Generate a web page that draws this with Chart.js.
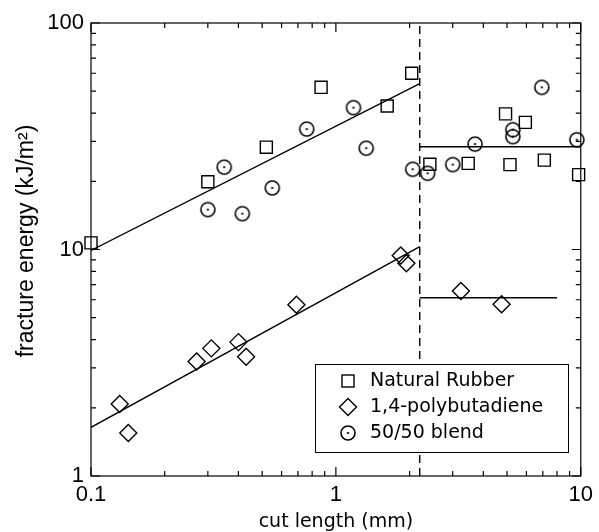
<!DOCTYPE html>
<html>
<head>
<meta charset="utf-8">
<script src="https://cdn.jsdelivr.net/npm/chart.js@4.4.1/dist/chart.umd.min.js"></script>
<style>
  html, body { margin: 0; padding: 0; background: #fff; }
</style>
</head>
<body>
<canvas id="fractureChart" width="599" height="532"></canvas>
<script>
// Data (cut length in mm, fracture energy in kJ/m2)
const rubberX = [0.1, 0.3, 0.52, 0.87, 1.62, 2.04, 2.42, 3.47, 4.93, 5.14, 5.94, 7.1, 9.8];
const rubberY = [10.7, 19.9, 28.3, 52, 43, 60, 23.8, 24, 39.7, 23.7, 36.4, 24.8, 21.4];

const pbX = [0.131, 0.142, 0.27, 0.31, 0.4, 0.43, 0.69, 1.84, 1.94, 3.24, 4.75];
const pbY = [2.08, 1.55, 3.2, 3.66, 3.9, 3.36, 5.7, 9.4, 8.7, 6.56, 5.73];

const blendX = [0.3, 0.35, 0.415, 0.55, 0.76, 1.18, 1.33, 2.06, 2.37, 3.0, 3.7, 5.28, 5.28, 6.93, 9.64];
const blendY = [15, 23.1, 14.4, 18.7, 34, 42.3, 28, 22.6, 21.7, 23.7, 29.2, 33.8, 31.5, 52, 30.5];

// fitted lines
const rubberFitX = [0.1, 2.2];
const rubberFitY = [9.9, 54];
const rubberFlatX = [2.2, 10];
const rubberFlatY = [28.4, 28.4];
const pbFitX = [0.1, 2.2];
const pbFitY = [1.64, 10.3];
const pbFlatX = [2.2, 8];
const pbFlatY = [6.12, 6.12];
const dividerX = [2.2, 2.2];
const dividerY = [1, 100];

const xTicks = [0.1, 1, 10];
const xTickLabels = ['0.1', '1', '10'];
const yTicks = [1, 10, 100];
const yTickLabels = ['1', '10', '100'];
const seriesNames = ['Natural Rubber', '1,4-polybutadiene', '50/50 blend'];
const yTitle = 'fracture energy (kJ/m²)';

const pts = (xs, ys) => xs.map((x, i) => ({ x: x, y: ys[i] }));

// circle with a small centre mark, used for the blend
function makeDotCircle() {
  const c = document.createElement('canvas');
  c.width = 18; c.height = 18;
  const g = c.getContext('2d');
  g.strokeStyle = '#000';
  g.lineWidth = 1.6;
  g.beginPath();
  g.arc(9, 9, 7, 0, Math.PI * 2);
  g.stroke();
  g.beginPath();
  g.moveTo(7.8, 9);
  g.lineTo(10.2, 9);
  g.stroke();
  return c;
}
const dotCircle = makeDotCircle();

function lineSet(xs, ys, dash) {
  return {
    type: 'line',
    data: pts(xs, ys),
    borderColor: '#000',
    borderWidth: 1.4,
    borderDash: dash || [],
    pointRadius: 0,
    fill: false,
    tension: 0
  };
}

// frame and inward ticks on all four sides, plus the y title
const frameTicks = {
  id: 'frameTicks',
  beforeDatasetsDraw(chart) {
    const { ctx, chartArea: a, scales: { x, y } } = chart;
    ctx.save();
    ctx.strokeStyle = '#000';
    ctx.lineWidth = 1.2;
    ctx.strokeRect(a.left, a.top, a.right - a.left, a.bottom - a.top);
    ctx.beginPath();
    [0.1, 1].forEach(d => {
      for (let k = 1; k <= 10; k++) {
        const px = x.getPixelForValue(d * k);
        const len = (k === 1 || k === 10) ? 9 : 5;
        ctx.moveTo(px, a.bottom); ctx.lineTo(px, a.bottom - len);
        ctx.moveTo(px, a.top); ctx.lineTo(px, a.top + len);
      }
    });
    [1, 10].forEach(d => {
      for (let k = 1; k <= 10; k++) {
        const py = y.getPixelForValue(d * k);
        const len = (k === 1 || k === 10) ? 9 : 5;
        ctx.moveTo(a.left, py); ctx.lineTo(a.left + len, py);
        ctx.moveTo(a.right, py); ctx.lineTo(a.right - len, py);
      }
    });
    ctx.stroke();

    // y axis title, a little above the plot centre as in the original
    ctx.translate(27, 241);
    ctx.rotate(-Math.PI / 2);
    ctx.fillStyle = '#000';
    ctx.font = '23px "Liberation Sans", Arial';
    ctx.textAlign = 'center';
    ctx.textBaseline = 'middle';
    ctx.fillText(yTitle, 0, 0);
    ctx.restore();
  }
};

// legend box inside the plot
const boxLegend = {
  id: 'boxLegend',
  afterDatasetsDraw(chart) {
    const ctx = chart.ctx;
    const bx = 315, by = 364, bw = 253, bh = 88;
    ctx.save();
    ctx.fillStyle = '#fff';
    ctx.fillRect(bx, by, bw, bh);
    ctx.strokeStyle = '#000';
    ctx.lineWidth = 1;
    ctx.strokeRect(bx + 0.5, by + 0.5, bw, bh);
    const rows = [381, 407, 433];
    const mx = 348;
    ctx.lineWidth = 1.4;
    ctx.strokeRect(mx - 6, rows[0] - 6, 12, 12);
    ctx.beginPath();
    ctx.moveTo(mx - 8.5, rows[1]);
    ctx.lineTo(mx, rows[1] - 8.5);
    ctx.lineTo(mx + 8.5, rows[1]);
    ctx.lineTo(mx, rows[1] + 8.5);
    ctx.closePath();
    ctx.stroke();
    ctx.drawImage(dotCircle, mx - 9, rows[2] - 9);
    ctx.fillStyle = '#000';
    ctx.font = '19px "DejaVu Sans"';
    ctx.textBaseline = 'middle';
    seriesNames.forEach((t, i) => ctx.fillText(t, 370, rows[i]));
    ctx.restore();
  }
};

new Chart(document.getElementById('fractureChart'), {
  type: 'scatter',
  data: {
    datasets: [
      {
        label: seriesNames[0],
        data: pts(rubberX, rubberY),
        pointStyle: 'rect',
        pointRadius: 8.5,
        borderColor: '#000',
        borderWidth: 1.4,
        backgroundColor: 'rgba(0,0,0,0)',
        clip: false
      },
      {
        label: seriesNames[1],
        data: pts(pbX, pbY),
        pointStyle: 'rectRot',
        pointRadius: 8.5,
        borderColor: '#000',
        borderWidth: 1.4,
        backgroundColor: 'rgba(0,0,0,0)',
        clip: false
      },
      {
        label: seriesNames[2],
        data: pts(blendX, blendY),
        pointStyle: dotCircle,
        pointRadius: 7,
        clip: false
      },
      lineSet(rubberFitX, rubberFitY),
      lineSet(rubberFlatX, rubberFlatY),
      lineSet(pbFitX, pbFitY),
      lineSet(pbFlatX, pbFlatY),
      lineSet(dividerX, dividerY, [8, 5])
    ]
  },
  options: {
    responsive: false,
    animation: false,
    events: [],
    layout: { padding: { top: 23, right: 15, left: 0, bottom: 0 } },
    plugins: {
      legend: { display: false },
      tooltip: { enabled: false }
    },
    scales: {
      x: {
        type: 'logarithmic',
        min: 0.1,
        max: 10,
        afterBuildTicks: s => { s.ticks = xTicks.map(v => ({ value: v })); },
        afterFit: s => { s.height = 56; },
        grid: { display: false, drawTicks: false },
        border: { display: false },
        ticks: {
          color: '#000',
          padding: 6,
          maxRotation: 0,
          autoSkip: false,
          font: { family: '"Liberation Sans", Arial', size: 22 },
          callback: (v, i) => xTickLabels[i]
        },
        title: {
          display: true,
          text: 'cut length (mm)',
          color: '#000',
          padding: { top: 0, bottom: -1 },
          font: { family: '"DejaVu Sans"', size: 19 }
        }
      },
      y: {
        type: 'logarithmic',
        min: 1,
        max: 100,
        afterBuildTicks: s => { s.ticks = yTicks.map(v => ({ value: v })); },
        afterFit: s => { s.width = 91; },
        grid: { display: false, drawTicks: false },
        border: { display: false },
        ticks: {
          color: '#000',
          padding: 7,
          autoSkip: false,
          font: { family: '"Liberation Sans", Arial', size: 22 },
          callback: (v, i) => yTickLabels[i]
        }
      }
    }
  },
  plugins: [frameTicks, boxLegend]
});
</script>
</body>
</html>
